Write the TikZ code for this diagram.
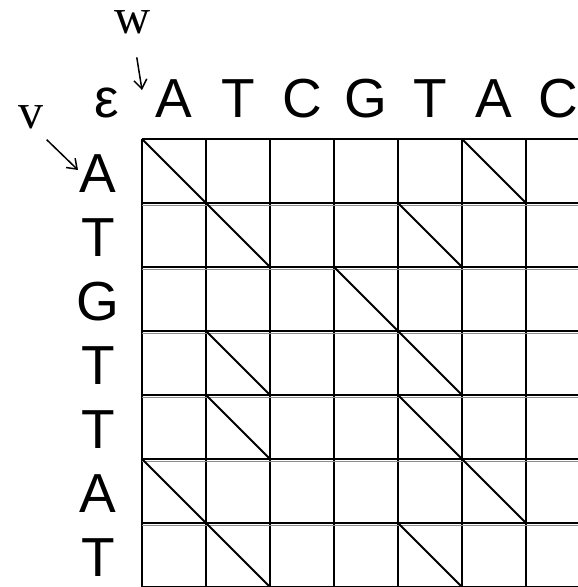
\documentclass[tikz,border=0pt]{standalone}
\usepackage{fontspec}
\setmainfont{Liberation Sans}
\newfontfamily\serifw{Liberation Serif}
\usepackage{tikz}
\usetikzlibrary{arrows.meta,positioning,calc}

\begin{document}
\begin{tikzpicture}[x=1pt,y=-1pt,
  base/.style={font=\fontsize{55}{55}\selectfont,inner sep=0pt,anchor=base},
  seqname/.style={font=\fontsize{50}{50}\serifw,inner sep=0pt,anchor=base},
  vline/.style={line width=2.4pt,black},
  hline/.style={line width=2.6pt,black},
  hshade/.style={line width=1.2pt,black!45},
  match/.style={line width=1.8pt,black},
  ptr/.style={-{Straight Barb[length=9pt,width=13pt,line width=1.5pt]},line width=1.5pt}
]
  \useasboundingbox (0,0) rectangle (578,587);
  \clip (0,0) rectangle (578,587);
  % sequence names
  \node[seqname] (w) at (133,33) {w};
  \node[seqname] (v) at (31,128) {v};
  \node[base] (eps) at (107,117) {ε};
  % top sequence
  \foreach \ch [count=\i] in {A,T,C,G,T,A,C}
    \node[base] (top\i) at ({174+64*(\i-1)},117) {\ch};
  % side sequence
  \foreach \ch [count=\j] in {A,T,G,T,T,A,T}
    \node[base] (side\j) at (98,{192+64*(\j-1)}) {\ch};
  % pointers
  \coordinate (whead) at (142,90);
  \coordinate (vhead) at (78,170);
  \draw[ptr,shorten <=24pt] (w.south) -- (whead);
  \draw[ptr] ($(v.south east)+(3,11)$) -- (vhead);
  % grid
  \foreach \i in {0,...,7}
    \draw[vline] ({142+64*\i},139) -- ({142+64*\i},590);
  \draw[hline] (142,139) -- (590,139);
  \foreach \j in {1,...,7}{
    \draw[hshade] (142,{139+64*\j+2.4}) -- (590,{139+64*\j+2.4});
    \draw[hline] (142,{139+64*\j}) -- (590,{139+64*\j});
  }
  % matching cells
  \foreach \c/\r in {1/1,6/1,2/2,5/2,4/3,2/4,5/4,2/5,5/5,1/6,6/6,2/7,5/7}
    \draw[match] ({142+64*(\c-1)},{139+64*(\r-1)}) -- ++(64,64);
\end{tikzpicture}
\end{document}
